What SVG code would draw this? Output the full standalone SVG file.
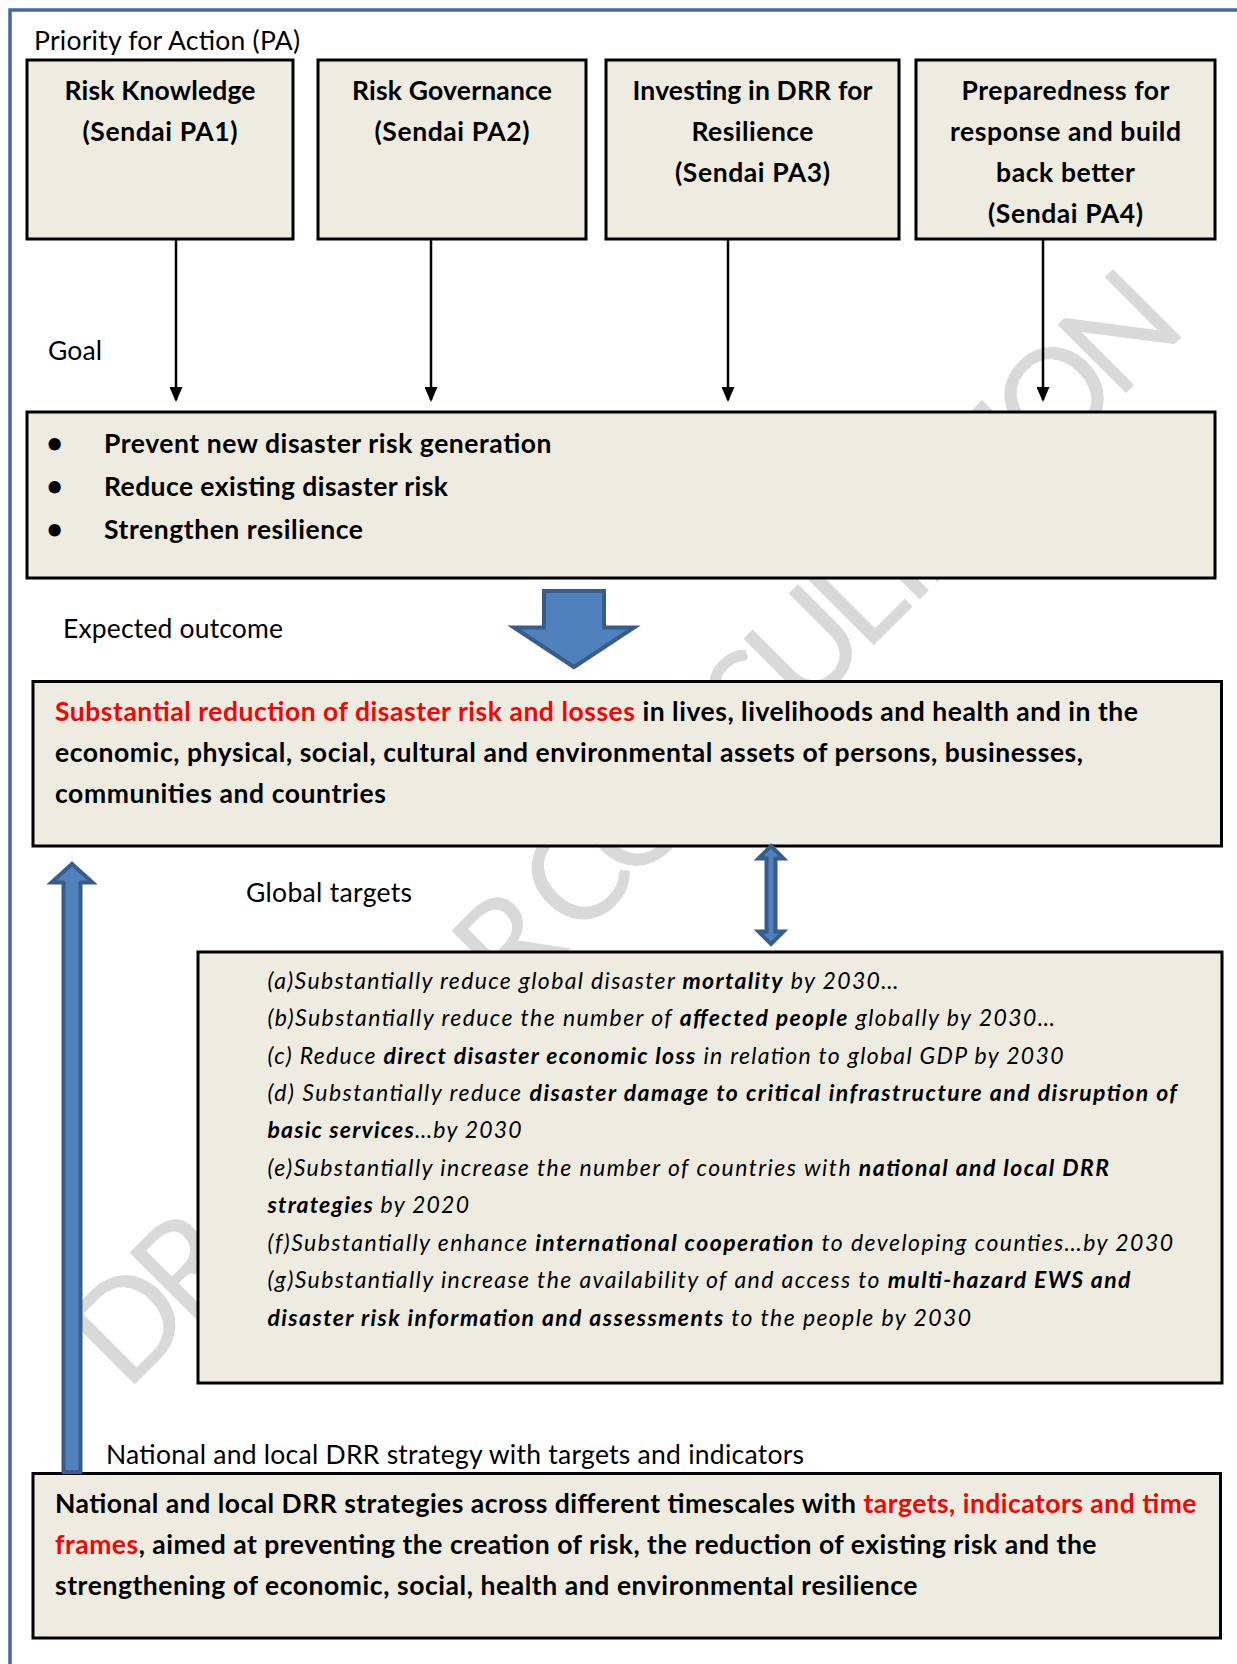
<svg xmlns="http://www.w3.org/2000/svg" width="1237" height="1664" viewBox="0 0 1237 1664">
<defs>
<style>
.t{font-family:Lato,"Liberation Sans",sans-serif;font-size:26.5px;fill:#000}
.b{font-weight:700}
.i{font-family:Lato,"Liberation Sans",sans-serif;font-size:23px;font-style:italic;fill:#000}
.bi{font-weight:700}
.box{fill:#EEECE1;stroke:#000;stroke-width:3}
.red{fill:#FF0000}
.conn{stroke:#000;stroke-width:2.5;fill:none}
.blue{fill:#4F81BD;stroke:#385D8A;stroke-linejoin:miter;stroke-miterlimit:10}
.wm{font-family:Lato,"Liberation Sans",sans-serif;font-size:135px;fill:#D9D9D9}
.frame{stroke:#45699C;stroke-width:3.5;fill:none}
</style>
<marker id="ah" markerUnits="userSpaceOnUse" markerWidth="15" markerHeight="13" refX="13" refY="6.5" orient="auto" viewBox="0 0 15 13"><path d="M0,0 L15,6.5 L0,13 Z" fill="#000"/></marker>
</defs>
<rect x="0" y="0" width="1237" height="1664" fill="#FFFFFF"/>
<text class="wm" transform="translate(658,861) rotate(-45)" x="0" y="0" text-anchor="middle" textLength="1505" lengthAdjust="spacing">DRAFT FOR CONSULTATION</text>
<path class="frame" d="M10,1664 V10 H1237"/>

<text class="t" x="34" y="50" textLength="266" lengthAdjust="spacing">Priority for Action (PA)</text>
<text class="t" x="48" y="360" textLength="54" lengthAdjust="spacing">Goal</text>
<text class="t" x="63" y="638" textLength="220" lengthAdjust="spacing">Expected outcome</text>
<text class="t" x="246" y="902" textLength="166" lengthAdjust="spacing">Global targets</text>
<text class="t" x="106" y="1463.5" textLength="698" lengthAdjust="spacing">National and local DRR strategy with targets and indicators</text>

<g id="pa1">
<rect class="box" x="27" y="60" width="266" height="179"/>
<text class="t b" x="160" y="100" text-anchor="middle" textLength="191" lengthAdjust="spacing">Risk Knowledge</text>
<text class="t b" x="160" y="141" text-anchor="middle" textLength="155" lengthAdjust="spacing">(Sendai PA1)</text>
</g>
<g id="pa2">
<rect class="box" x="318" y="60" width="268" height="179"/>
<text class="t b" x="452" y="100" text-anchor="middle" textLength="200" lengthAdjust="spacing">Risk Governance</text>
<text class="t b" x="452" y="141" text-anchor="middle" textLength="155" lengthAdjust="spacing">(Sendai PA2)</text>
</g>
<g id="pa3">
<rect class="box" x="606" y="60" width="293" height="179"/>
<text class="t b" x="752.5" y="100" text-anchor="middle" textLength="240" lengthAdjust="spacing">Investing in DRR for</text>
<text class="t b" x="752.5" y="141" text-anchor="middle" textLength="122" lengthAdjust="spacing">Resilience</text>
<text class="t b" x="752.5" y="182" text-anchor="middle" textLength="155" lengthAdjust="spacing">(Sendai PA3)</text>
</g>
<g id="pa4">
<rect class="box" x="916" y="60" width="299" height="179"/>
<text class="t b" x="1065.5" y="100" text-anchor="middle" textLength="208" lengthAdjust="spacing">Preparedness for</text>
<text class="t b" x="1065.5" y="141" text-anchor="middle" textLength="231" lengthAdjust="spacing">response and build</text>
<text class="t b" x="1065.5" y="182" text-anchor="middle" textLength="139" lengthAdjust="spacing">back better</text>
<text class="t b" x="1065.5" y="223" text-anchor="middle" textLength="155" lengthAdjust="spacing">(Sendai PA4)</text>
</g>

<g id="goal">
<rect class="box" x="27" y="412" width="1188" height="166"/>
<text class="t b" x="54.5" y="453" text-anchor="middle" style="font-size:28px">•</text>
<text class="t b" x="54.5" y="496" text-anchor="middle" style="font-size:28px">•</text>
<text class="t b" x="54.5" y="539" text-anchor="middle" style="font-size:28px">•</text>
<text class="t b" x="104" y="453" textLength="447.5" lengthAdjust="spacing">Prevent new disaster risk generation</text>
<text class="t b" x="104" y="496" textLength="344" lengthAdjust="spacing">Reduce existing disaster risk</text>
<text class="t b" x="104" y="539" textLength="259" lengthAdjust="spacing">Strengthen resilience</text>
</g>

<g id="outcome">
<rect class="box" x="33" y="681.5" width="1188.5" height="164.5"/>
<text class="t b" x="55" y="721" textLength="1083" lengthAdjust="spacing"><tspan class="red">Substantial reduction of disaster risk and losses</tspan> in lives, livelihoods and health and in the</text>
<text class="t b" x="55" y="762" textLength="1028" lengthAdjust="spacing">economic, physical, social, cultural and environmental assets of persons, businesses,</text>
<text class="t b" x="55" y="803" textLength="331" lengthAdjust="spacing">communities and countries</text>
</g>

<g id="targets">
<rect class="box" x="198" y="952" width="1024" height="431"/>
<text class="i" x="267.5" y="988.5" textLength="631" lengthAdjust="spacing">(a)Substantially reduce global disaster <tspan class="bi">mortality</tspan> by 2030…</text>
<text class="i" x="267.5" y="1026" textLength="787.5" lengthAdjust="spacing">(b)Substantially reduce the number of <tspan class="bi">affected people</tspan> globally by 2030…</text>
<text class="i" x="267.5" y="1063.5" textLength="796" lengthAdjust="spacing">(c) Reduce <tspan class="bi">direct disaster economic loss</tspan> in relation to global GDP by 2030</text>
<text class="i" x="267.5" y="1101" textLength="909.5" lengthAdjust="spacing">(d) Substantially reduce <tspan class="bi">disaster damage to critical infrastructure and disruption of</tspan></text>
<text class="i" x="267.5" y="1138" textLength="254" lengthAdjust="spacing"><tspan class="bi">basic services</tspan>…by 2030</text>
<text class="i" x="267.5" y="1175.5" textLength="841.5" lengthAdjust="spacing">(e)Substantially increase the number of countries with <tspan class="bi">national and local DRR</tspan></text>
<text class="i" x="267.5" y="1213" textLength="201.5" lengthAdjust="spacing"><tspan class="bi">strategies</tspan> by 2020</text>
<text class="i" x="267.5" y="1250.5" textLength="905.5" lengthAdjust="spacing">(f)Substantially enhance <tspan class="bi">international cooperation</tspan> to developing counties…by 2030</text>
<text class="i" x="267.5" y="1288" textLength="863" lengthAdjust="spacing">(g)Substantially increase the availability of and access to <tspan class="bi">multi-hazard EWS and</tspan></text>
<text class="i" x="267.5" y="1325.5" textLength="703.5" lengthAdjust="spacing"><tspan class="bi">disaster risk information and assessments</tspan> to the people by 2030</text>
</g>

<g id="strategy">
<rect class="box" x="33" y="1473.5" width="1187.5" height="164.5"/>
<text class="t b" x="55" y="1513" textLength="1141.5" lengthAdjust="spacing">National and local DRR strategies across different timescales with <tspan class="red">targets, indicators and time</tspan></text>
<text class="t b" x="55" y="1554" textLength="1041.5" lengthAdjust="spacing"><tspan class="red">frames</tspan>, aimed at preventing the creation of risk, the reduction of existing risk and the</text>
<text class="t b" x="55" y="1595" textLength="862.5" lengthAdjust="spacing">strengthening of economic, social, health and environmental resilience</text>
</g>

<g id="connectors">
<line class="conn" x1="176" y1="240" x2="176" y2="400" marker-end="url(#ah)"/>
<line class="conn" x1="431" y1="240" x2="431" y2="400" marker-end="url(#ah)"/>
<line class="conn" x1="728" y1="240" x2="728" y2="400" marker-end="url(#ah)"/>
<line class="conn" x1="1043" y1="240" x2="1043" y2="400" marker-end="url(#ah)"/>
<path class="blue" stroke-width="4" d="M544,591 H604 V627.5 H634 L574,667 L514,627.5 H544 Z"/>
<path class="blue" stroke-width="4" d="M771,846 L783.5,858.5 L775.5,858.5 L775.5,931.5 L783.5,931.5 L771,944 L758.5,931.5 L766.5,931.5 L766.5,858.5 L758.5,858.5 Z"/>
<path class="blue" stroke-width="4" d="M72,864 L92.5,882.5 L80.5,882.5 L80.5,1472 L63.5,1472 L63.5,882.5 L51.5,882.5 Z"/>
</g>
</svg>
